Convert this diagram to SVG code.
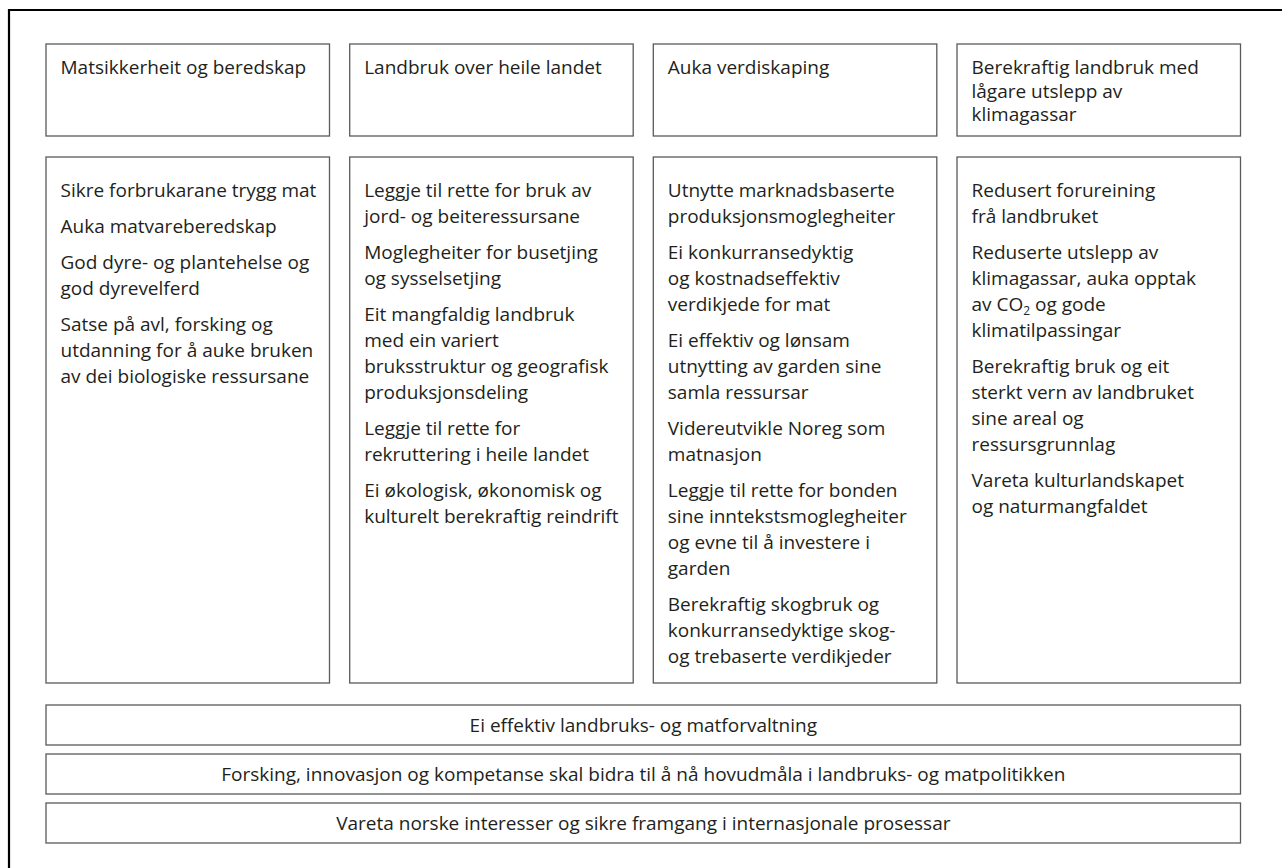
<svg xmlns="http://www.w3.org/2000/svg" width="1282" height="868" viewBox="0 0 1282 868">
<style>
.box{fill:#fff;stroke:#5a5a5a;stroke-width:1.3}
text{font-family:"Open Sans","Noto Sans",sans-serif;font-size:19px;fill:#231f20}
.c{text-anchor:middle}
</style>
<rect x="0" y="0" width="1282" height="868" fill="#fff"/>
<path d="M9,868 V10 H1282" fill="none" stroke="#000" stroke-width="2.2"/>
<g id="connectors"></g>
<g id="h1"><rect class="box" x="46" y="44" width="283.5" height="92"/>
<text x="60.5" y="74">Matsikkerheit og beredskap</text></g>
<g id="h2"><rect class="box" x="349.7" y="44" width="283.5" height="92"/>
<text x="364.2" y="74">Landbruk over heile landet</text></g>
<g id="h3"><rect class="box" x="653.3" y="44" width="283.5" height="92"/>
<text x="667.8" y="74">Auka verdiskaping</text></g>
<g id="h4"><rect class="box" x="957" y="44" width="283.5" height="92"/>
<text x="971.5" y="74">Berekraftig landbruk med</text>
<text x="971.5" y="97.5">lågare utslepp av</text>
<text x="971.5" y="121">klimagassar</text></g>

<g id="c1"><rect class="box" x="46" y="157" width="283.5" height="526"/>
<text x="60.5" y="197">Sikre forbrukarane trygg mat</text>
<text x="60.5" y="233">Auka matvareberedskap</text>
<text x="60.5" y="269">God dyre- og plantehelse og</text>
<text x="60.5" y="295">god dyrevelferd</text>
<text x="60.5" y="331">Satse på avl, forsking og</text>
<text x="60.5" y="357">utdanning for å auke bruken</text>
<text x="60.5" y="383">av dei biologiske ressursane</text></g>

<g id="c2"><rect class="box" x="349.7" y="157" width="283.5" height="526"/>
<text x="364.2" y="197">Leggje til rette for bruk av</text>
<text x="364.2" y="223">jord- og beiteressursane</text>
<text x="364.2" y="259">Moglegheiter for busetjing</text>
<text x="364.2" y="285">og sysselsetjing</text>
<text x="364.2" y="321">Eit mangfaldig landbruk</text>
<text x="364.2" y="347">med ein variert</text>
<text x="364.2" y="373">bruksstruktur og geografisk</text>
<text x="364.2" y="399">produksjonsdeling</text>
<text x="364.2" y="435">Leggje til rette for</text>
<text x="364.2" y="461">rekruttering i heile landet</text>
<text x="364.2" y="497">Ei økologisk, økonomisk og</text>
<text x="364.2" y="523">kulturelt berekraftig reindrift</text></g>

<g id="c3"><rect class="box" x="653.3" y="157" width="283.5" height="526"/>
<text x="667.8" y="197">Utnytte marknadsbaserte</text>
<text x="667.8" y="223">produksjonsmoglegheiter</text>
<text x="667.8" y="259">Ei konkurransedyktig</text>
<text x="667.8" y="285">og kostnadseffektiv</text>
<text x="667.8" y="311">verdikjede for mat</text>
<text x="667.8" y="347">Ei effektiv og lønsam</text>
<text x="667.8" y="373">utnytting av garden sine</text>
<text x="667.8" y="399">samla ressursar</text>
<text x="667.8" y="435">Videreutvikle Noreg som</text>
<text x="667.8" y="461">matnasjon</text>
<text x="667.8" y="497">Leggje til rette for bonden</text>
<text x="667.8" y="523">sine inntekstsmoglegheiter</text>
<text x="667.8" y="549">og evne til å investere i</text>
<text x="667.8" y="575">garden</text>
<text x="667.8" y="611">Berekraftig skogbruk og</text>
<text x="667.8" y="637">konkurransedyktige skog-</text>
<text x="667.8" y="663">og trebaserte verdikjeder</text></g>

<g id="c4"><rect class="box" x="957" y="157" width="283.5" height="526"/>
<text x="971.5" y="197">Redusert forureining</text>
<text x="971.5" y="223">frå landbruket</text>
<text x="971.5" y="259">Reduserte utslepp av</text>
<text x="971.5" y="285">klimagassar, auka opptak</text>
<text x="971.5" y="311">av CO<tspan font-size="12" dy="4">2</tspan><tspan dy="-4"> og gode</tspan></text>
<text x="971.5" y="337">klimatilpassingar</text>
<text x="971.5" y="373">Berekraftig bruk og eit</text>
<text x="971.5" y="399">sterkt vern av landbruket</text>
<text x="971.5" y="425">sine areal og</text>
<text x="971.5" y="451">ressursgrunnlag</text>
<text x="971.5" y="487">Vareta kulturlandskapet</text>
<text x="971.5" y="513">og naturmangfaldet</text></g>

<g id="b1"><rect class="box" x="46" y="705" width="1194.5" height="40"/>
<text class="c" x="643.3" y="732">Ei effektiv landbruks- og matforvaltning</text></g>
<g id="b2"><rect class="box" x="46" y="754" width="1194.5" height="40"/>
<text class="c" x="643.3" y="781">Forsking, innovasjon og kompetanse skal bidra til å nå hovudmåla i landbruks- og matpolitikken</text></g>
<g id="b3"><rect class="box" x="46" y="803" width="1194.5" height="40"/>
<text class="c" x="643.3" y="830">Vareta norske interesser og sikre framgang i internasjonale prosessar</text></g>
</svg>
